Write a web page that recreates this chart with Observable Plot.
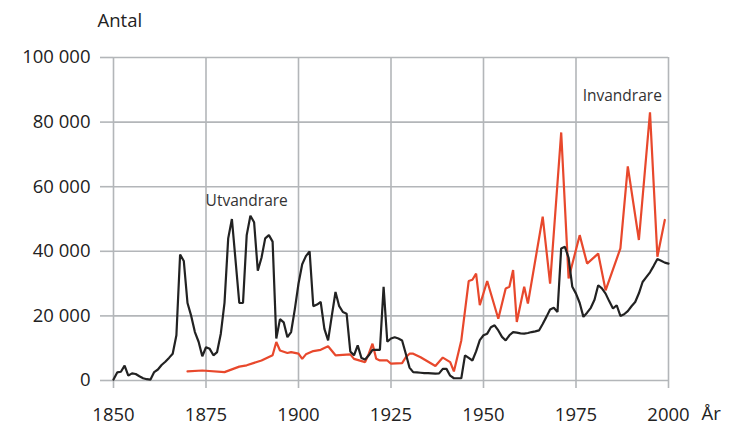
<!DOCTYPE html>
<html><head><meta charset="utf-8">
<script src="https://cdn.jsdelivr.net/npm/d3@7"></script>
<script src="https://cdn.jsdelivr.net/npm/@observablehq/plot@0.6"></script>
<style>body{margin:0;background:#fff} svg{display:block}</style>
</head><body><div id="chart"></div>
<script>
// Utvandrare (emigrants), thousands
const utYears = [1850,1851,1852,1853,1854,1855,1856,1857,1858,1859,1860,1861,1862,1863,1864,1865,1866,1867,1868,1869,1870,1871,1872,1873,1874,1875,1876,1877,1878,1879,1880,1881,1882,1883,1884,1885,1886,1887,1888,1889,1890,1891,1892,1893,1894,1895,1896,1897,1898,1899,1900,1901,1902,1903,1904,1905,1906,1907,1908,1909,1910,1911,1912,1913,1914,1915,1916,1917,1918,1919,1920,1921,1922,1923,1924,1925,1926,1927,1928,1929,1930,1931,1932,1933,1934,1935,1936,1937,1938,1939,1940,1941,1942,1943,1944,1945,1946,1947,1948,1949,1950,1951,1952,1953,1954,1955,1956,1957,1958,1959,1960,1961,1962,1963,1964,1965,1966,1967,1968,1969,1970,1971,1972,1973,1974,1975,1976,1977,1978,1979,1980,1981,1982,1983,1984,1985,1986,1987,1988,1989,1990,1991,1992,1993,1994,1995,1996,1997,1998,1999,2000];
const utValues = [0.3,2.5,2.7,4.6,1.5,2.2,2.0,1.3,0.7,0.4,0.3,2.6,3.4,4.8,5.8,7.0,8.3,14,39,37,24,20,15,12,7.5,10.3,9.8,7.8,8.8,14.5,24,44,50,37,24,24,45,51,49,34,38,44,45,43,13,19,18,13.4,15,22,30,36,38.5,40,23,23.5,24.3,16,12.4,20,27.4,23,21.2,20.7,9,7.8,10.9,7,6.5,7.8,9.5,9.5,9.5,29,12,13,13.4,13,12.4,8.3,4,2.6,2.5,2.4,2.3,2.3,2.2,2.1,2.2,3.6,3.6,1.5,0.7,0.7,0.7,7.8,7,6.2,9,12.5,14,14.5,16.5,17.1,15.5,13.5,12.4,14,15,14.8,14.6,14.5,14.7,15,15.2,15.5,17.5,19.7,22,22.5,21.2,40.9,41.4,38,29,26.9,24,19.7,21,22.5,25,29.5,28.5,26.9,24.5,22.3,23.3,20,20.5,21.5,23,24.3,27,30.5,32,33.5,35.5,37.6,37.1,36.5,36.2];

// Invandrare (immigrants), thousands
const inYears = [1870,1874,1880,1884,1886,1890,1893,1894,1895,1897,1898,1900,1901,1902,1904,1906,1908,1910,1914,1915,1918,1919,1920,1921,1922,1924,1925,1928,1929,1930,1931,1933,1937,1939,1941,1942,1944,1946,1947,1948,1949,1951,1954,1956,1957,1958,1959,1961,1962,1966,1968,1971,1973,1976,1978,1981,1983,1987,1989,1992,1995,1997,1999];
const inValues = [2.8,3.1,2.6,4.3,4.7,6.2,7.8,11.9,9.3,8.5,8.8,8.3,6.7,8.1,9.1,9.5,10.6,7.8,8.1,6.7,5.7,8.3,11.4,6.7,6.2,6.2,5.2,5.4,7.2,8.3,8.3,7.2,4.5,7.1,5.7,2.8,12.4,30.8,31.2,33.1,23.3,30.8,19.1,28.5,29,34.2,18.1,29,23.8,50.7,30,76.8,31.6,45,36.2,39.3,27.9,40.9,66.3,43.5,83,38.3,49.7];

const xTicks = [1850,1875,1900,1925,1950,1975,2000];
const yTicks = [0,20000,40000,60000,80000,100000];
const yTitle = "Antal";
const xTitle = "År";
const seriesNames = ["Utvandrare","Invandrare"];
const labelYears = [1886, 1987.5];
const labelValues = [55500, 88000];

const ut = utYears.map((y,i)=>({year:y, value:utValues[i]*1000}));
const inv = inYears.map((y,i)=>({year:y, value:inValues[i]*1000}));
const labels = seriesNames.map((n,i)=>({name:n, year:labelYears[i], value:labelValues[i]}));
const fmt = d => d3.format(",")(d).replace(/,/g, " ");
const gridColor = "#b3b6b9";

const chart = Plot.plot({
  width: 734, height: 427,
  marginLeft: 113, marginRight: 66, marginTop: 57, marginBottom: 47,
  style: {fontFamily: "'Open Sans', sans-serif", fontSize: "18.5px", color: "#222", background: "#fff", overflow: "visible"},
  x: {domain: [1850, 2000]},
  y: {domain: [0, 100000]},
  marks: [
    Plot.gridX(xTicks, {stroke: gridColor, strokeOpacity: 1, strokeWidth: 1.6}),
    Plot.gridY(yTicks, {stroke: gridColor, strokeOpacity: 1, strokeWidth: 1.6}),
    Plot.axisX(xTicks, {tickSize: 8, tickPadding: 19, stroke: gridColor, strokeWidth: 1.6, fill: "#222", tickFormat: d => String(d), label: null}),
    Plot.axisY(yTicks, {tickSize: 13, tickPadding: 10, stroke: gridColor, strokeWidth: 1.6, fill: "#222", tickFormat: fmt, label: null}),
    Plot.line(inv, {x: "year", y: "value", stroke: "#e8482c", strokeWidth: 2.2, strokeLinejoin: "miter"}),
    Plot.line(ut, {x: "year", y: "value", stroke: "#222", strokeWidth: 2.2, strokeLinejoin: "miter"}),
    Plot.text(labels, {x: "year", y: "value", text: "name", fontSize: 15.5, fill: "#333", textAnchor: "middle", lineAnchor: "middle"}),
    Plot.text([yTitle], {frameAnchor: "top-left", dx: -16, dy: -36, textAnchor: "start", lineAnchor: "middle", fill: "#222", fontSize: 18.5}),
    Plot.text([xTitle], {frameAnchor: "bottom-right", dx: 33, dy: 34, textAnchor: "start", lineAnchor: "middle", fill: "#222", fontSize: 18.5})
  ]
});
document.getElementById("chart").appendChild(chart);
</script>
</body></html>
